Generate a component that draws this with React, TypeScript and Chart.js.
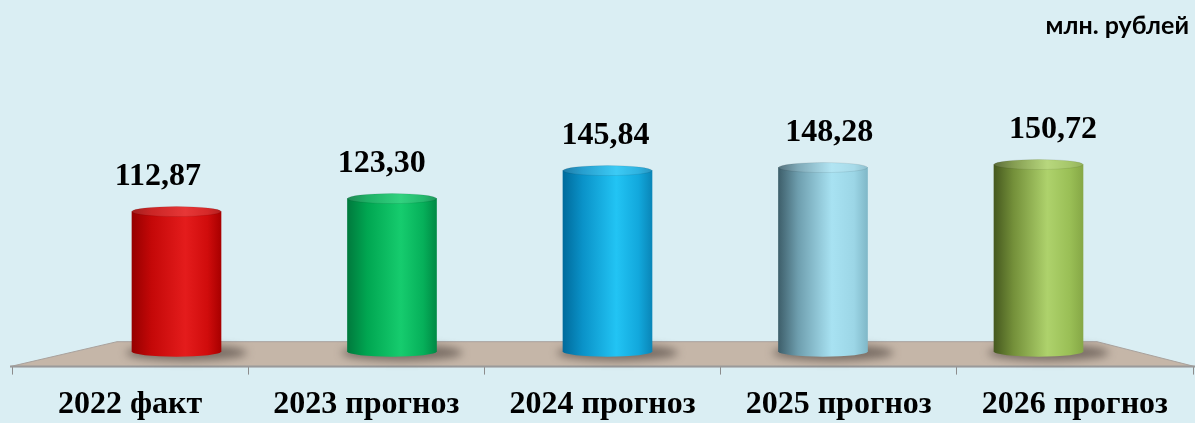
import React, { useEffect, useRef } from 'react';
import { Chart, registerables } from 'chart.js';

Chart.register(...registerables);

// ---- data ----
const categories = ['2022 факт', '2023 прогноз', '2024 прогноз', '2025 прогноз', '2026 прогноз'];
const values = [112.87, 123.3, 145.84, 148.28, 150.72];
const unitLabel = 'млн. рублей';

// ---- styles ----
const gradStops = [0, 0.22, 0.6, 0.85, 1];
const palette = [
  ['#960000', '#c40808', '#e41c1c', '#d00c0c', '#a80000'],
  ['#007a3d', '#00a651', '#16cc6e', '#06b05a', '#008a45'],
  ['#006b9c', '#0a92c8', '#22c4f4', '#12a8dc', '#0a86b8'],
  ['#3e5f6b', '#6e9eae', '#a8e2f2', '#9cd6e6', '#80b8c8'],
  ['#46591f', '#74903a', '#aed26c', '#9abf56', '#86a846'],
];
const BAR_W = 89;
const RY = 5;
const BG = '#daeef3';
const SERIF = "'Liberation Serif', 'Times New Roman', serif";
const FONT_SIZE = 32;

function makeGrad(ctx: CanvasRenderingContext2D, x0: number, x1: number, cols: string[]) {
  if (!isFinite(x0) || !isFinite(x1) || x1 === x0) return cols[2];
  const g = ctx.createLinearGradient(x0, 0, x1, 0);
  cols.forEach((c, i) => g.addColorStop(gradStops[i], c));
  return g;
}

const fmt = (v: number) => v.toFixed(2).replace('.', ',');

const cylinderPlugin = {
  id: 'cylinders',
  beforeDatasetsDraw(chart: any) {
    const { ctx, chartArea, scales } = chart;
    const y0 = scales.y.getPixelForValue(0);
    const front = chartArea.bottom;
    const back = y0 - 10;
    ctx.save();
    ctx.beginPath();
    ctx.moveTo(chartArea.left - 2, front);
    ctx.lineTo(chartArea.left + 105, back);
    ctx.lineTo(chartArea.right - 96, back);
    ctx.lineTo(chartArea.right + 2, front);
    ctx.closePath();
    ctx.fillStyle = '#c5b6a8';
    ctx.fill();
    ctx.strokeStyle = '#a8a19c';
    ctx.lineWidth = 1;
    ctx.stroke();
    ctx.beginPath();
    ctx.moveTo(chartArea.left - 2, front);
    ctx.lineTo(chartArea.right + 2, front);
    ctx.strokeStyle = '#9a9a9a';
    ctx.lineWidth = 2;
    ctx.stroke();
    const meta = chart.getDatasetMeta(0);
    meta.data.forEach((bar: any) => {
      ctx.save();
      ctx.filter = 'blur(4px)';
      ctx.fillStyle = 'rgba(70,60,55,0.6)';
      ctx.beginPath();
      ctx.ellipse(bar.x + 10, bar.base + 1, bar.width / 2 + 16, 8, 0, 0, Math.PI * 2);
      ctx.fill();
      ctx.restore();
    });
    ctx.restore();
  },
  afterDatasetsDraw(chart: any) {
    const { ctx, scales } = chart;
    const meta = chart.getDatasetMeta(0);
    ctx.save();
    meta.data.forEach((bar: any, i: number) => {
      const w = bar.width;
      const x0 = bar.x - w / 2;
      const x1 = bar.x + w / 2;
      const g = makeGrad(ctx, x0, x1, palette[i]);
      // bottom half ellipse
      ctx.beginPath();
      ctx.ellipse(bar.x, bar.base, w / 2, RY, 0, 0, Math.PI);
      ctx.fillStyle = g;
      ctx.fill();
      // top ellipse
      ctx.beginPath();
      ctx.ellipse(bar.x, bar.y, w / 2, RY, 0, 0, Math.PI * 2);
      ctx.fillStyle = g;
      ctx.fill();
      ctx.fillStyle = 'rgba(255,255,255,0.12)';
      ctx.fill();
      ctx.strokeStyle = 'rgba(0,0,0,0.08)';
      ctx.lineWidth = 1;
      ctx.stroke();
      // value label
      const catX = scales.x.getPixelForValue(i);
      const lx = bar.x + 0.4 * (catX - bar.x);
      ctx.fillStyle = '#000';
      ctx.font = `bold ${FONT_SIZE}px ${SERIF}`;
      ctx.textAlign = 'center';
      ctx.textBaseline = 'alphabetic';
      ctx.fillText(fmt(values[i]), lx, bar.y - RY - 22);
    });
    // unit label
    ctx.font = "bold 25px Lato, 'Open Sans', sans-serif";
    ctx.textAlign = 'right';
    ctx.fillStyle = '#000';
    ctx.fillText(unitLabel, 1189, 34);
    ctx.restore();
  },
};

export default function App() {
  const ref = useRef<HTMLCanvasElement>(null);
  useEffect(() => {
    if (!ref.current) return;
    const chart = new Chart(ref.current, {
      type: 'bar',
      data: {
        labels: categories,
        datasets: [
          {
            data: categories.map((_, i) => ({ x: i, y: values[i] })) as any,
            xAxisID: 'x2',
            yAxisID: 'y',
            barThickness: BAR_W,
            borderWidth: 0,
            backgroundColor: (c: any) => {
              const chart = c.chart;
              const xs = chart.scales && chart.scales.x2;
              const i = c.dataIndex ?? 0;
              if (!xs || c.type !== 'data') return palette[i][2];
              const cx = xs.getPixelForValue(i);
              return makeGrad(chart.ctx, cx - BAR_W / 2, cx + BAR_W / 2, palette[i]);
            },
          },
        ],
      },
      options: {
        animation: false,
        responsive: true,
        maintainAspectRatio: false,
        layout: { padding: { left: 12, right: 2, top: 40, bottom: -12 } },
        plugins: { legend: { display: false }, tooltip: { enabled: false }, title: { display: false } },
        scales: {
          x: {
            type: 'category',
            offset: true,
            grid: {
              offset: true,
              display: true,
              drawOnChartArea: false,
              drawTicks: true,
              tickLength: 8,
              color: '#8c8c8c',
              lineWidth: 1,
            },
            border: { display: false },
            ticks: {
              color: '#000',
              padding: 11,
              maxRotation: 0,
              autoSkip: false,
              font: { family: SERIF, size: FONT_SIZE, weight: 'bold' },
            },
          },
          x2: {
            type: 'linear',
            display: false,
            min: -0.7633,
            max: 4.717,
            offset: false,
          },
          y: {
            type: 'linear',
            display: false,
            min: -12,
            max: 251,
          },
        },
      },
      plugins: [cylinderPlugin],
    });
    return () => chart.destroy();
  }, []);
  return (
    <div style={{ position: 'absolute', left: 0, top: 0, width: 1195, height: 423, background: BG }}>
      <canvas ref={ref} />
    </div>
  );
}
